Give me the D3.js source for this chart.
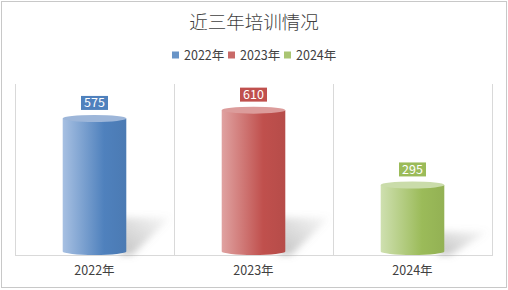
<!DOCTYPE html>
<html>
<head>
    <meta charset="utf-8">
    <script src="https://d3js.org/d3.v7.min.js"></script>
    <style>
        body { margin: 0; background: white; }
        text { font-family: "Microsoft YaHei", "Noto Sans CJK SC", sans-serif; }
    </style>
</head>
<body>
<svg id="chart"></svg>
<script>
    const title = '近三年培训情况';
    const years = ['2022年', '2023年', '2024年'];
    const counts = [575, 610, 295];
    const colors = [
        {light: '#a7c0e2', dark: '#4f81bd', top: '#9db6d9'},
        {light: '#e0a2a1', dark: '#c0504d', top: '#dc9c9b'},
        {light: '#cfe0b0', dark: '#9bbb59', top: '#cadcaa'}
    ];

    const W = 508, H = 290;
    const svg = d3.select('#chart').attr('width', W).attr('height', H);
    const defs = svg.append('defs');

    // outer border
    svg.append('rect').attr('x', 1.5).attr('y', 1.5)
       .attr('width', W - 3).attr('height', H - 4)
       .attr('fill', 'white').attr('stroke', '#c8c8c8');

    const plot = {left: 15, right: 492, top: 84, bottom: 255};

    let x = d3.scaleBand().domain(years).range([plot.left, plot.right]);
    let y = d3.scaleLinear().domain([0, 720]).range([plot.bottom, plot.top]);

    // title
    svg.append('text').attr('x', W / 2).attr('y', 29)
       .attr('text-anchor', 'middle').attr('font-size', 18.5).attr('font-weight', 300)
       .attr('fill', '#404040').text(title);

    // legend
    let lg = svg.append('g');
    let lx = 172;
    years.forEach((yr, i) => {
        lg.append('rect').attr('x', lx).attr('y', 51.5).attr('width', 7).attr('height', 7)
          .attr('fill', colors[i].dark).attr('opacity', 0.85);
        lg.append('text').attr('x', lx + 12).attr('y', 59.5)
          .attr('font-size', 12.5).attr('fill', '#404040').text(yr);
        lx += 56;
    });

    // grid lines
    const grid = d3.range(years.length + 1).map(i => plot.left + i * x.step());
    svg.selectAll('.grid').data(grid).join('line')
       .attr('x1', d => Math.round(d) + 0.5).attr('x2', d => Math.round(d) + 0.5)
       .attr('y1', plot.top).attr('y2', plot.bottom)
       .attr('stroke', '#d9d9d9');
    svg.append('line').attr('x1', plot.left).attr('x2', plot.right + 1)
       .attr('y1', plot.bottom + 0.5).attr('y2', plot.bottom + 0.5)
       .attr('stroke', '#d9d9d9');

    // shadow blur + fade
    defs.append('filter').attr('id', 'blur').attr('x', '-50%').attr('y', '-50%')
        .attr('width', '200%').attr('height', '200%')
        .append('feGaussianBlur').attr('stdDeviation', 3.5);
    let sg = defs.append('linearGradient').attr('id', 'shadeGrad')
                 .attr('x1', 0).attr('y1', 1).attr('x2', 1).attr('y2', 0);
    sg.append('stop').attr('offset', '0%').attr('stop-color', '#888').attr('stop-opacity', 0.5);
    sg.append('stop').attr('offset', '100%').attr('stop-color', '#888').attr('stop-opacity', 0.05);

    const bw = x.bandwidth() * 0.4;
    const ry = 3.5;

    years.forEach((yr, i) => {
        let g = defs.append('linearGradient').attr('id', 'grad' + i)
                    .attr('x1', 0).attr('x2', 1).attr('y1', 0).attr('y2', 0);
        g.append('stop').attr('offset', '0%').attr('stop-color', colors[i].light);
        g.append('stop').attr('offset', '65%').attr('stop-color', colors[i].dark);
        g.append('stop').attr('offset', '100%').attr('stop-color', d3.color(colors[i].dark).darker(0.15));
    });

    let bars = svg.selectAll('.bar').data(years).join('g').attr('class', 'bar');

    bars.each(function(yr, i) {
        let gEl = d3.select(this);
        let cx = x(yr) + x.bandwidth() / 2;
        let x0 = cx - bw / 2, x1 = cx + bw / 2;
        let yt = y(counts[i]);
        let yb = plot.bottom - ry;
        let h = yb - yt;

        // shadow
        let sh = Math.min(h * 0.3, 34);
        gEl.append('path')
           .attr('d', `M${x1 - 6},${yb + ry} L${x1 - 6},${yb - sh} L${x1 + 44},${yb - sh} L${x1 + 6},${yb + ry} Z`)
           .attr('fill', 'url(#shadeGrad)').attr('filter', 'url(#blur)');

        // body
        gEl.append('path')
           .attr('d', `M${x0},${yt} L${x0},${yb} A${bw / 2},${ry} 0 0 0 ${x1},${yb} L${x1},${yt} Z`)
           .attr('fill', `url(#grad${i})`);
        // top ellipse
        gEl.append('ellipse').attr('cx', cx).attr('cy', yt)
           .attr('rx', bw / 2).attr('ry', ry)
           .attr('fill', colors[i].top);

        // value label
        let lbl = String(counts[i]);
        let boxW = 27, boxH = 14;
        gEl.append('rect').attr('x', cx - boxW / 2).attr('y', yt - ry - 5 - boxH)
           .attr('width', boxW).attr('height', boxH).attr('fill', colors[i].dark);
        gEl.append('text').attr('x', cx).attr('y', yt - ry - 5 - 2.5)
           .attr('text-anchor', 'middle').attr('font-size', 12.5)
           .attr('fill', 'white').text(lbl);
    });

    // category labels
    svg.selectAll('.cat').data(years).join('text')
       .attr('x', d => x(d) + x.bandwidth() / 2).attr('y', 275)
       .attr('text-anchor', 'middle').attr('font-size', 12.5)
       .attr('fill', '#404040').text(d => d);
</script>
</body>
</html>
